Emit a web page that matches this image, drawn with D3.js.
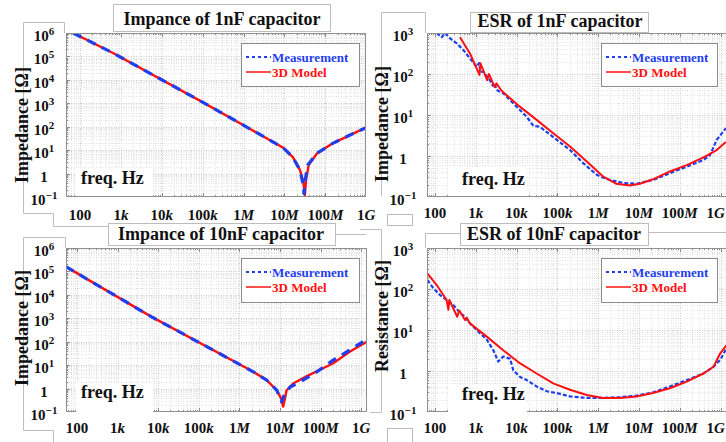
<!DOCTYPE html>
<html>
<head>
<meta charset="utf-8">
<script src="https://cdn.jsdelivr.net/npm/d3@7"></script>
<style>
  body { margin: 0; background: #fff; }
  svg { display: block; }
  text { font-family: 'Liberation Serif', 'DejaVu Serif', serif; font-weight: bold; }
</style>
</head>
<body>
<svg id="chart" width="726" height="442"></svg>
<script>
const xTickValues = [1e2, 1e3, 1e4, 1e5, 1e6, 1e7, 1e8, 1e9]
const xTickLabels = ['100', '1k', '10k', '100k', '1M', '10M', '100M', '1G']
const impYTicks = [1e-1, 1, 1e1, 1e2, 1e3, 1e4, 1e5, 1e6]
const esrYTicks = [1e-1, 1, 1e1, 1e2, 1e3]
const seriesNames = ['Measurement', '3D Model']
const panelTitles = ['Impance of 1nF capacitor', 'ESR of 1nF capacitor', 'Impance of 10nF capacitor', 'ESR of 10nF capacitor']
const yTitles = ['Impedance [Ω]', 'Impedance [Ω]', 'Impedance [Ω]', 'Resistance [Ω]']

// [frequency Hz, value Ohm]
const imp1nFMeas = [[68, 1e6], [640, 1.4e5], [8.5e4, 1300], [1.45e6, 80], [9.1e6, 13], [1.6e7, 5], [2.4e7, 1.4],
  [2.8e7, 0.4], [3.0e7, 0.14], [3.2e7, 0.5], [3.7e7, 2.3], [6.2e7, 7.4], [1.55e8, 20], [4e8, 44], [1.05e9, 96]]
const imp1nFModel = [[68, 1e6], [640, 1.4e5], [8.5e4, 1300], [1.45e6, 80], [9.1e6, 13], [1.6e7, 5], [2.4e7, 1.4],
  [2.9e7, 0.4], [3.15e7, 0.12], [3.35e7, 0.5], [3.9e7, 2.3], [6.2e7, 7.2], [1.55e8, 20], [4e8, 44], [1.05e9, 98]]

const imp10nFMeas = [[53, 1.6e5], [6.9e3, 1150], [2.2e6, 5.2], [4.7e6, 2.3], [8.3e6, 0.85], [1.0e7, 0.4], [1.1e7, 0.27],
  [1.25e7, 0.5], [1.78e7, 1.17], [3.1e7, 1.9], [8e7, 5.1], [2e8, 16], [5.2e8, 44], [1.37e9, 126]]
const imp10nFModel = [[53, 1.6e5], [6.9e3, 1150], [2.2e6, 5.2], [4.7e6, 2.3], [8.3e6, 0.85], [1.05e7, 0.4], [1.2e7, 0.17],
  [1.35e7, 0.45], [1.45e7, 0.85], [2.1e7, 1.65], [4.6e7, 3.4], [2e8, 11.7], [5.2e8, 37], [1.37e9, 100]]

const esr1nFMeas = [[110, 1000], [146, 790], [177, 1000], [234, 740], [340, 560], [490, 390], [720, 240], [1050, 150],
  [1200, 185], [1300, 112], [1500, 115], [2200, 71], [2600, 52], [2900, 60], [3200, 41], [4700, 34], [6900, 23],
  [1e4, 16], [1.76e4, 9.1], [2.6e4, 5.4], [3.7e4, 5.2], [7.9e4, 2.9], [2.04e5, 1.4], [4.35e5, 0.66], [9.2e5, 0.35],
  [1.3e6, 0.3], [1.95e6, 0.26], [4.1e6, 0.22], [8.7e6, 0.21], [2.2e7, 0.26], [5.7e7, 0.38], [1.48e8, 0.55],
  [3.8e8, 0.8], [5.5e8, 1.05], [8e8, 2.45], [1.35e9, 4.8]]
const esr1nFModel = [[410, 790], [720, 318], [1230, 95], [1300, 182], [1900, 71], [2100, 100], [2900, 48], [3200, 59],
  [4300, 39], [1.2e4, 16], [3.1e4, 7.6], [7.9e4, 3.6], [2.04e5, 1.7], [5.25e5, 0.73], [1.3e6, 0.32], [2.8e6, 0.21],
  [6e6, 0.19], [1.05e7, 0.21], [2.2e7, 0.27], [5.7e7, 0.42], [1.48e8, 0.6], [3.8e8, 0.93], [8e8, 1.4], [1.35e9, 2.2]]

const esr10nFMeas = [[65, 166], [91, 105], [133, 71], [193, 54], [280, 41], [410, 26], [545, 21], [720, 14.5],
  [1270, 8.3], [1860, 5.8], [2700, 3.2], [3550, 1.7], [4700, 2.25], [6900, 2.0], [8300, 1.05], [1.2e4, 0.72],
  [1.78e4, 0.6], [3.1e4, 0.42], [5.5e4, 0.32], [9.6e4, 0.29], [2.04e5, 0.24], [5.25e5, 0.22], [1.3e6, 0.22],
  [3.4e6, 0.23], [8.7e6, 0.25], [2.2e7, 0.3], [5.7e7, 0.42], [1.48e8, 0.6], [3.8e8, 0.87], [6.7e8, 1.27],
  [9.8e8, 1.87], [1.4e9, 3.6]]
const esr10nFModel = [[65, 240], [110, 125], [193, 54], [213, 31], [225, 54], [350, 21], [395, 30], [545, 17.5],
  [600, 20], [720, 14.5], [1860, 6.9], [4700, 3.2], [1.2e4, 1.55], [3.1e4, 0.87], [7.9e4, 0.5], [2.04e5, 0.35],
  [5.25e5, 0.26], [1.3e6, 0.22], [3.4e6, 0.22], [8.7e6, 0.24], [2.2e7, 0.29], [5.7e7, 0.38], [1.48e8, 0.55],
  [3.8e8, 0.87], [6.7e8, 1.27], [9.8e8, 2.7], [1.4e9, 4.3]]

const blue = '#1f3fef'
const red = '#ff1010'
const frameColor = '#bdbdbd'

const svg = d3.select('#chart')
svg.append('rect').attr('width', 726).attr('height', 442).attr('fill', '#fff')

// leftovers of the screenshot frames
const frame = svg.append('g').attr('fill', 'none').attr('stroke', frameColor).attr('stroke-width', 1)
const framePaths = [
  [[64.5, 33], [64.5, 22.5], [23.5, 22.5], [23.5, 213.5], [53.5, 213.5], [53.5, 226.5], [108, 226.5]],
  [[425.5, 33], [425.5, 12.5], [381.5, 12.5], [381.5, 196]],
  [[65.5, 248], [65.5, 237.5], [23.5, 237.5], [23.5, 430.5], [53.5, 430.5], [53.5, 442]],
  [[360, 229.5], [381.5, 229.5], [381.5, 412.5], [370, 412.5]],
  [[425.5, 248], [425.5, 233.5], [460, 233.5]],
  [[648, 232.5], [726, 232.5]],
  [[335, 234.5], [366, 234.5]]
]
framePaths.forEach(pts => frame.append('path').attr('d', d3.line()(pts)))
frame.append('rect').attr('x', 387.5).attr('y', 214.5).attr('width', 25).attr('height', 11)
frame.append('rect').attr('x', 387.5).attr('y', 428.5).attr('width', 25).attr('height', 20)

const panels = [
  {title: panelTitles[0], yTitle: yTitles[0], meas: imp1nFMeas, model: imp1nFModel, yTicks: impYTicks, kind: 'imp',
    l: 66, r: 366, t: 33, b: 197, xDom: [45.5, 9.84e8], yDom: [0.1, 1e6],
    yLabX: 44, xLabY: 220, yTitleX: 28, yTitleY: 125,
    titleBox: [113, 4, 217, 27], titleX: 222, titleY: 25,
    legend: [241, 43, 118, 43], freqBox: [76, 168, 77, 28], freqX: 81, freqY: 184},
  {title: panelTitles[1], yTitle: yTitles[1], meas: esr1nFMeas, model: esr1nFModel, yTicks: esrYTicks, kind: 'esr',
    l: 427, r: 730, t: 33, b: 197, xDom: [63.7, 1.7e9], yDom: [0.1, 1e3],
    yLabX: 403, xLabY: 218, yTitleX: 388, yTitleY: 124,
    titleBox: [470, 12, 178, 20], titleX: 560, titleY: 27,
    legend: [601, 43, 116, 43], freqBox: [448, 168, 79, 28], freqX: 462, freqY: 185},
  {title: panelTitles[2], yTitle: yTitles[2], meas: imp10nFMeas, model: imp10nFModel, yTicks: impYTicks, kind: 'imp',
    l: 66, r: 367, t: 248, b: 412, xDom: [53.6, 1.39e9], yDom: [0.1, 1e6],
    yLabX: 44, xLabY: 433, yTitleX: 28, yTitleY: 328,
    titleBox: [108, 223, 227, 22], titleX: 221, titleY: 240,
    legend: [241, 258, 118, 44], freqBox: [76, 383, 77, 29], freqX: 81, freqY: 398},
  {title: panelTitles[3], yTitle: yTitles[3], meas: esr10nFMeas, model: esr10nFModel, yTicks: esrYTicks, kind: 'esr',
    l: 427, r: 730, t: 248, b: 412, xDom: [63.7, 1.7e9], yDom: [0.1, 1e3],
    yLabX: 403, xLabY: 433, yTitleX: 388, yTitleY: 316,
    titleBox: [460, 223, 188, 22], titleX: 554, titleY: 240,
    legend: [601, 258, 116, 44], freqBox: [448, 385, 79, 27], freqX: 462, freqY: 400}
]

function logSteps(dom) {
  const out = []
  const k0 = Math.floor(Math.log10(dom[0]))
  const k1 = Math.ceil(Math.log10(dom[1]))
  for (let k = k0; k <= k1; k++) {
    for (let m = 1; m <= 9; m++) {
      const v = m * Math.pow(10, k)
      if (v >= dom[0] && v <= dom[1]) out.push({v, major: m === 1})
    }
  }
  return out
}

panels.forEach((p, i) => {
  const x = d3.scaleLog().domain(p.xDom).range([p.l, p.r])
  const y = d3.scaleLog().domain(p.yDom).range([p.b, p.t])
  const g = svg.append('g')

  const clipId = 'clip' + i
  svg.append('clipPath').attr('id', clipId)
    .append('rect').attr('x', p.l).attr('y', p.t).attr('width', p.r - p.l).attr('height', p.b - p.t)

  g.append('rect').attr('x', p.l).attr('y', p.t).attr('width', p.r - p.l).attr('height', p.b - p.t)
    .attr('fill', '#fff')

  // grid
  const grid = g.append('g').attr('clip-path', `url(#${clipId})`)
  grid.selectAll('.gx').data(logSteps(p.xDom)).join('line')
    .attr('x1', d => Math.round(x(d.v)) + 0.5).attr('x2', d => Math.round(x(d.v)) + 0.5)
    .attr('y1', p.t).attr('y2', p.b)
    .attr('stroke', d => d.major ? '#c8c8c8' : '#e2e2e2')
    .attr('stroke-dasharray', '1,1.5')
  grid.selectAll('.gy').data(logSteps(p.yDom)).join('line')
    .attr('y1', d => Math.round(y(d.v)) + 0.5).attr('y2', d => Math.round(y(d.v)) + 0.5)
    .attr('x1', p.l).attr('x2', p.r)
    .attr('stroke', d => d.major ? '#c8c8c8' : '#e2e2e2')
    .attr('stroke-dasharray', '1,1.5')

  // tick marks along bottom and top
  const ticks = g.append('g').attr('clip-path', `url(#${clipId})`).attr('stroke', '#8a8a8a')
  logSteps(p.xDom).forEach(d => {
    const len = d.major ? 4 : 2
    const xx = Math.round(x(d.v)) + 0.5
    ticks.append('line').attr('x1', xx).attr('x2', xx).attr('y1', p.b).attr('y2', p.b - len)
    ticks.append('line').attr('x1', xx).attr('x2', xx).attr('y1', p.t).attr('y2', p.t + len)
  })
  logSteps(p.yDom).forEach(d => {
    const len = d.major ? 4 : 2
    const yy = Math.round(y(d.v)) + 0.5
    ticks.append('line').attr('x1', p.l).attr('x2', p.l + len).attr('y1', yy).attr('y2', yy)
  })

  // curves
  const line = d3.line().x(d => x(d[0])).y(d => y(d[1]))
  const curves = g.append('g').attr('clip-path', `url(#${clipId})`).attr('fill', 'none')
    .attr('stroke-linejoin', 'round')
  if (p.kind === 'imp') {
    curves.append('path').datum(p.model).attr('d', line)
      .attr('stroke', red).attr('stroke-width', 2.4)
    curves.append('path').datum(p.meas).attr('d', line)
      .attr('stroke', blue).attr('stroke-width', 3.2).attr('stroke-dasharray', '9,7')
  } else {
    curves.append('path').datum(p.meas).attr('d', line)
      .attr('stroke', blue).attr('stroke-width', 2.2).attr('stroke-dasharray', '4,2')
    curves.append('path').datum(p.model).attr('d', line)
      .attr('stroke', red).attr('stroke-width', 2)
  }

  // plot frame
  g.append('rect').attr('x', p.l + 0.5).attr('y', p.t + 0.5)
    .attr('width', p.r - p.l - 1).attr('height', p.b - p.t - 1)
    .attr('fill', 'none').attr('stroke', '#909090')

  // x tick labels
  xTickValues.forEach((v, j) => {
    const xx = x(v)
    if (xx < p.l - 20 || xx > 740) return
    const lab = xTickLabels[j]
    const num = lab.replace(/[kMG]/, '')
    const suf = lab.slice(num.length)
    const t = g.append('text').attr('x', xx).attr('y', p.xLabY)
      .attr('text-anchor', 'middle').attr('font-size', 15).attr('fill', '#111')
    t.append('tspan').text(num)
    if (suf) t.append('tspan').attr('font-style', 'italic').text(suf)
    // keep labels at the window edge inside it
    const box = t.node().getBBox()
    if (box.x + box.width > 725) t.attr('x', xx - (box.x + box.width - 725))
  })

  // y tick labels
  p.yTicks.forEach(v => {
    const e = Math.round(Math.log10(v))
    const t = g.append('text').attr('x', p.yLabX).attr('y', y(v) + 8)
      .attr('text-anchor', 'middle').attr('font-size', 15).attr('fill', '#111')
    if (e === 0) {
      t.text('1')
    } else {
      t.append('tspan').text('10')
      t.append('tspan').attr('font-size', 11).attr('dy', -6).text(e < 0 ? '\u2212' + (-e) : e)
    }
  })

  // y axis title
  g.append('text')
    .attr('transform', `translate(${p.yTitleX},${p.yTitleY}) rotate(-90)`)
    .attr('text-anchor', 'middle').attr('font-size', 18).attr('fill', '#111')
    .text(p.yTitle)

  // title box
  const [tbx, tby, tbw, tbh] = p.titleBox
  g.append('rect').attr('x', tbx + 0.5).attr('y', tby + 0.5).attr('width', tbw).attr('height', tbh)
    .attr('fill', '#fff').attr('stroke', frameColor)
  g.append('text').attr('x', p.titleX).attr('y', p.titleY)
    .attr('text-anchor', 'middle').attr('font-size', 18).attr('fill', '#111')
    .text(p.title)

  // freq. Hz box
  const [fx, fy, fw, fh] = p.freqBox
  g.append('rect').attr('x', fx).attr('y', fy).attr('width', fw).attr('height', fh).attr('fill', '#fff')
  g.append('text').attr('x', p.freqX).attr('y', p.freqY).attr('font-size', 18).attr('fill', '#111')
    .text('freq. Hz')

  // legend
  const [lx, ly, lw, lh] = p.legend
  const leg = g.append('g')
  leg.append('rect').attr('x', lx + 0.5).attr('y', ly + 0.5).attr('width', lw).attr('height', lh)
    .attr('fill', '#fff').attr('stroke', '#8c8c8c')
  const rows = [
    {name: seriesNames[0], color: blue, dash: '3,3', dy: 14},
    {name: seriesNames[1], color: red, dash: null, dy: 29}
  ]
  rows.forEach(r => {
    leg.append('line').attr('x1', lx + 5).attr('x2', lx + 30)
      .attr('y1', ly + r.dy).attr('y2', ly + r.dy)
      .attr('stroke', r.color).attr('stroke-width', r.dash ? 2 : 1.5)
      .attr('stroke-dasharray', r.dash)
    leg.append('text').attr('x', lx + 31).attr('y', ly + r.dy + 4.5)
      .attr('font-size', 13).attr('fill', r.color).text(r.name)
  })
})
</script>
</body>
</html>
